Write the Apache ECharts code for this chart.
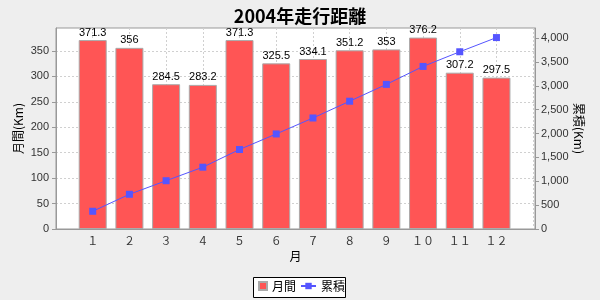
<!DOCTYPE html>
<html>
<head>
<meta charset="utf-8">
<script src="https://cdn.jsdelivr.net/npm/echarts@6/dist/echarts.min.js"></script>
<style>html,body{margin:0;padding:0;background:#EEEEEE;}#c{width:600px;height:300px;}</style>
</head>
<body>
<div id="c"></div>
<script>
const categories = ['１','２','３','４','５','６','７','８','９','１０','１１','１２'];
const monthly = [371.3, 356, 284.5, 283.2, 371.3, 325.5, 334.1, 351.2, 353, 376.2, 307.2, 297.5];
const cumulative = [371.3, 727.3, 1011.8, 1295, 1666.3, 1991.8, 2325.9, 2677.1, 3030.1, 3406.3, 3713.5, 4011];
const leftTicks = [0, 50, 100, 150, 200, 250, 300, 350];
const rightTicks = [0, 500, 1000, 1500, 2000, 2500, 3000, 3500, 4000];

const latin = "'Liberation Sans', Arial, sans-serif";
const cjk = "'Noto Sans CJK JP', sans-serif";

const chart = echarts.init(document.getElementById('c'), null, {renderer: 'canvas'});
chart.setOption({
  backgroundColor: '#EEEEEE',
  animation: false,
  title: {
    text: '2004年走行距離', left: 'center', top: 2,
    textStyle: {fontFamily: cjk, fontWeight: 'bold', fontSize: 18, color: '#000'}
  },
  grid: {
    left: 56, right: 65, top: 28, bottom: 71,
    show: true, backgroundColor: '#FFFFFF', borderColor: '#999999', borderWidth: 1
  },
  graphic: [{
    type: 'rect', z: 1,
    shape: {x: 253.5, y: 277.5, width: 92, height: 20},
    style: {fill: '#FFFFFF', stroke: '#000000', lineWidth: 1}
  }],
  legend: [{
    data: ['月間'], left: 258, top: 280, padding: 0, z: 5,
    icon: 'rect', itemWidth: 8, itemHeight: 8, itemGap: 4,
    textStyle: {fontFamily: cjk, fontSize: 12, color: '#000'}
  }, {
    data: ['累積'], left: 300, top: 280, padding: 0, z: 5,
    itemWidth: 15, itemHeight: 8,
    textStyle: {fontFamily: cjk, fontSize: 12, color: '#000'}
  }],
  xAxis: {
    type: 'value', min: 0, max: 13.05, interval: 1,
    name: '月', nameLocation: 'middle', nameGap: 21, nameMoveOverlap: false,
    nameTextStyle: {fontFamily: cjk, fontSize: 12, color: '#000'},
    axisLine: {show: true, lineStyle: {color: '#999999'}},
    axisTick: {show: false},
    axisLabel: {
      margin: 6, fontFamily: cjk, fontSize: 11, color: '#333',
      formatter: v => (Number.isInteger(v) && v >= 1 && v <= 12) ? categories[v - 1] : ''
    },
    splitLine: {show: true, lineStyle: {color: '#D0D0D0', type: [2, 2], width: 1}}
  },
  yAxis: [{
    type: 'value', min: 0, max: 395.01, interval: 50, position: 'left',
    name: '月間(Km)', nameLocation: 'middle', nameGap: 32, nameMoveOverlap: false,
    nameTextStyle: {fontFamily: cjk, fontSize: 12, color: '#000'},
    axisLine: {show: true, lineStyle: {color: '#999999'}},
    axisTick: {show: true, length: 4, lineStyle: {color: '#999999'}, customValues: leftTicks},
    axisLabel: {margin: 7, fontFamily: latin, fontSize: 11, color: '#333', customValues: leftTicks},
    splitLine: {show: true, lineStyle: {color: '#D0D0D0', type: [2, 2], width: 1}}
  }, {
    type: 'value', min: 0, max: 4211.55, interval: 500, position: 'right',
    name: '累積(Km)', nameLocation: 'middle', nameGap: 38, nameRotate: -90, nameMoveOverlap: false,
    nameTextStyle: {fontFamily: cjk, fontSize: 12, color: '#000'},
    axisLine: {show: true, lineStyle: {color: '#999999'}},
    axisTick: {show: true, length: 4, lineStyle: {color: '#999999'}, customValues: rightTicks},
    axisLabel: {margin: 6, fontFamily: latin, fontSize: 11, color: '#333', customValues: rightTicks,
      formatter: v => v.toLocaleString('en-US')},
    splitLine: {show: false}
  }],
  series: [{
    name: '月間', type: 'bar', yAxisIndex: 0, barWidth: 28,
    data: monthly.map((v, i) => [i + 1, v]),
    itemStyle: {color: '#FF5555', borderColor: '#AAAAAA', borderWidth: 1},
    label: {show: true, position: 'top', distance: 2, fontFamily: latin, fontSize: 11, color: '#000',
      formatter: p => String(p.value[1])}
  }, {
    name: '累積', type: 'line', yAxisIndex: 1,
    data: cumulative.map((v, i) => [i + 1, v]),
    symbol: 'rect', symbolSize: 7,
    lineStyle: {color: '#5555FF', width: 1},
    itemStyle: {color: '#5555FF'}
  }]
});
</script>
</body>
</html>
